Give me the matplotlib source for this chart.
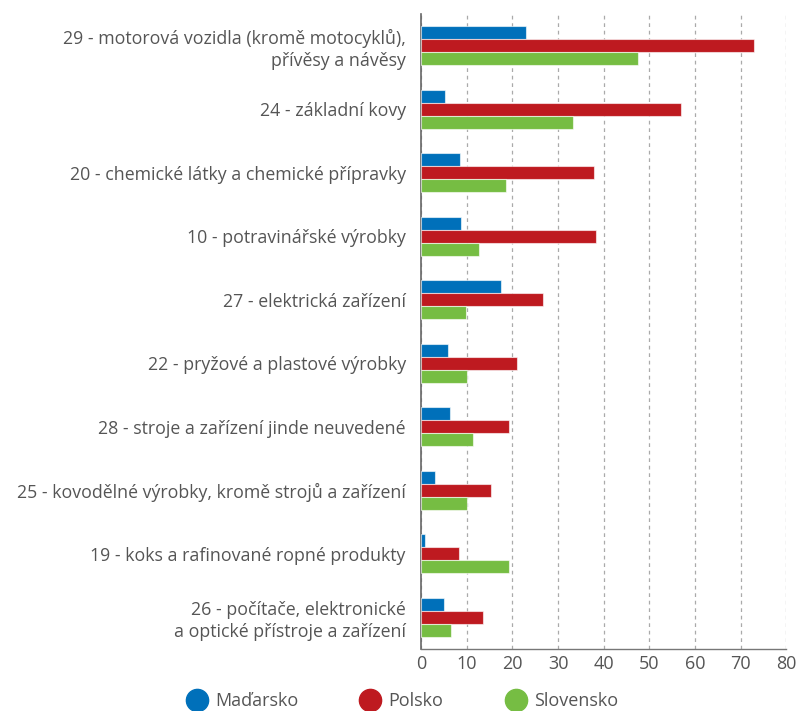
import matplotlib
matplotlib.use("Agg")
import matplotlib.pyplot as plt
import numpy as np
from matplotlib.lines import Line2D

plt.rcParams['font.family'] = ['Open Sans', 'DejaVu Sans']

categories = [
    "29 - motorová vozidla (kromě motocyklů),\npřívěsy a návěsy",
    "24 - základní kovy",
    "20 - chemické látky a chemické přípravky",
    "10 - potravinářské výrobky",
    "27 - elektrická zařízení",
    "22 - pryžové a plastové výrobky",
    "28 - stroje a zařízení jinde neuvedené",
    "25 - kovodělné výrobky, kromě strojů a zařízení",
    "19 - koks a rafinované ropné produkty",
    "26 - počítače, elektronické\na optické přístroje a zařízení",
]
madarsko = [23.0, 5.2, 8.6, 8.7, 17.4, 6.0, 6.3, 3.1, 0.9, 5.1]
polsko = [72.8, 57.0, 37.9, 38.3, 26.8, 21.1, 19.2, 15.2, 8.2, 13.5]
slovensko = [47.4, 33.2, 18.6, 12.7, 9.9, 10.1, 11.4, 10.1, 19.3, 6.6]
series_names = ["Maďarsko", "Polsko", "Slovensko"]
colors = ["#0070BA", "#BE1A20", "#76BD43"]
xticks = [0, 10, 20, 30, 40, 50, 60, 70, 80]

fig = plt.figure(figsize=(7.96, 7.11), dpi=100)
ax = fig.add_axes([0.529, 0.087, 0.459, 0.893])

y = np.arange(len(categories))
h = 0.205
for i, (vals, c) in enumerate(zip([madarsko, polsko, slovensko], colors)):
    ax.barh(y + (i - 1) * h, vals, height=h, color=c, edgecolor=(1, 1, 1, 0.6),
            linewidth=0.8, zorder=3)

ax.set_ylim(len(categories) - 0.5, -0.5)
ax.set_xlim(0, 80)
ax.set_xticks(xticks)
ax.set_yticks(y)
ax.set_yticklabels(categories, fontsize=12.8, color="#555555", linespacing=1.25)
ax.tick_params(axis='y', length=0, pad=11)
ax.tick_params(axis='x', length=0, labelsize=13, labelcolor="#555555", pad=4)
for s in ['top', 'right']:
    ax.spines[s].set_visible(False)
ax.spines['left'].set_color("#666666")
ax.spines['left'].set_linewidth(1.2)
ax.spines['bottom'].set_color("#777777")
ax.spines['bottom'].set_linewidth(1.0)
ax.xaxis.grid(True, linestyle=(0, (3, 3)), color="#aaaaaa", linewidth=0.9, zorder=0)
ax.set_axisbelow(True)

handles = [Line2D([0], [0], marker='o', color='none', markerfacecolor=c,
                  markeredgecolor=c, markersize=16) for c in colors]
fig.legend(handles, series_names, loc='lower center', ncol=3, frameon=False,
           bbox_to_anchor=(0.505, -0.022), fontsize=13, labelcolor="#555555",
           columnspacing=3.4, handletextpad=0.4, handlelength=1.2)

fig.savefig("out.png", dpi=100)
